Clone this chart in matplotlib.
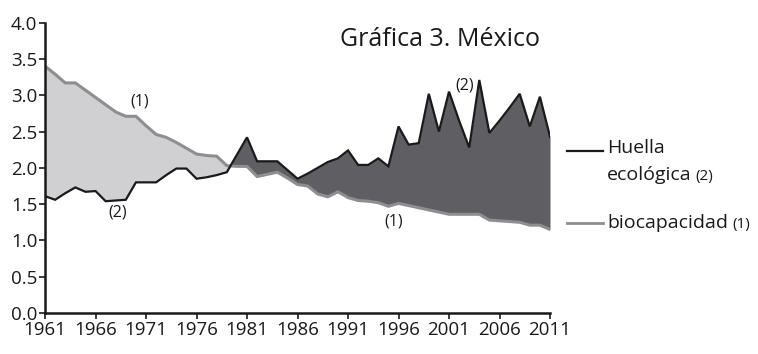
import matplotlib
matplotlib.use("Agg")
import matplotlib.pyplot as plt
import numpy as np

plt.rcParams['font.family'] = ['Open Sans', 'DejaVu Sans']

years = np.arange(1961, 2012)
huella = [1.61, 1.56, 1.65, 1.73, 1.67, 1.68, 1.54, 1.55, 1.56, 1.80,
          1.80, 1.80, 1.90, 1.99, 1.99, 1.85, 1.87, 1.90, 1.94, 2.18,
          2.42, 2.09, 2.09, 2.09, 1.97, 1.85, 1.92, 2.00, 2.08, 2.13,
          2.24, 2.04, 2.04, 2.13, 2.02, 2.57, 2.32, 2.34, 3.02, 2.50,
          3.05, 2.65, 2.28, 3.21, 2.48, 2.65, 2.83, 3.02, 2.57, 2.98,
          2.43]
biocap = [3.40, 3.29, 3.17, 3.17, 3.07, 2.97, 2.87, 2.77, 2.71, 2.71,
          2.58, 2.46, 2.42, 2.35, 2.27, 2.19, 2.17, 2.16, 2.03, 2.02,
          2.02, 1.88, 1.91, 1.94, 1.86, 1.77, 1.75, 1.64, 1.60, 1.67,
          1.59, 1.55, 1.54, 1.52, 1.47, 1.51, 1.48, 1.45, 1.42, 1.39,
          1.36, 1.36, 1.36, 1.36, 1.28, 1.27, 1.26, 1.25, 1.21, 1.21,
          1.15]
xticks = np.arange(1961, 2012, 5)
yticks = np.arange(0, 4.01, 0.5)

h = np.array(huella)
b = np.array(biocap)

fig = plt.figure(figsize=(7.58, 3.54), dpi=100)
ax = fig.add_axes([0.0594, 0.1158, 0.6662, 0.8202])

ax.fill_between(years, h, b, where=b >= h, interpolate=True, color='#d0d0d2', lw=0)
ax.fill_between(years, h, b, where=h >= b, interpolate=True, color='#5f5f63', lw=0)
ax.plot(years, b, color='#8e8e90', lw=2.2, solid_joinstyle='miter')
ax.plot(years, h, color='#1a1a1a', lw=1.6, solid_joinstyle='miter')

ax.set_xlim(1961, 2011)
ax.set_ylim(0, 4.0)
ax.set_xticks(xticks)
ax.set_yticks(yticks)
ax.set_yticklabels(['%.1f' % v for v in yticks])
ax.tick_params(labelsize=13.5, length=4, width=1.2, color='#1a1a1a', labelcolor='#1a1a1a', pad=1.5)
for s in ['top', 'right']:
    ax.spines[s].set_visible(False)
for s in ['left', 'bottom']:
    ax.spines[s].set_linewidth(1.8)
    ax.spines[s].set_color('#1a1a1a')

# annotations
ax.text(1970.4, 2.91, '(1)', ha='center', va='center', fontsize=11.5, color='#1a1a1a')
ax.text(1968.2, 1.38, '(2)', ha='center', va='center', fontsize=11.5, color='#1a1a1a')
ax.text(1995.5, 1.26, '(1)', ha='center', va='center', fontsize=11.5, color='#1a1a1a')
ax.text(2002.6, 3.14, '(2)', ha='center', va='center', fontsize=11.5, color='#1a1a1a')

fig.text(440 / 758, 1 - 40 / 354, 'Gráfica 3. México', ha='center', va='center',
         fontsize=18, color='#1a1a1a')

# legend
fig.add_artist(plt.Line2D([567 / 758, 603 / 758], [1 - 151 / 354] * 2, color='#1a1a1a', lw=1.6))
fig.add_artist(plt.Line2D([567 / 758, 603 / 758], [1 - 223 / 354] * 2, color='#8e8e90', lw=2.0))
fig.text(607 / 758, 1 - 148 / 354, 'Huella', ha='left', va='center', fontsize=14, color='#1a1a1a')
t1 = fig.text(607 / 758, 1 - 175 / 354, 'ecológica', ha='left', va='center', fontsize=14, color='#1a1a1a')
t2 = fig.text(607 / 758, 1 - 223 / 354, 'biocapacidad', ha='left', va='center', fontsize=14, color='#1a1a1a')
fig.canvas.draw()
r = fig.canvas.get_renderer()
for t, s in [(t1, '(2)'), (t2, '(1)')]:
    bb = t.get_window_extent(r)
    fig.text((bb.x1 + 4) / 758, 1 - 176 / 354 if t is t1 else 1 - 224 / 354, s,
             ha='left', va='center', fontsize=11, color='#1a1a1a')

fig.savefig('out.png', dpi=100)
